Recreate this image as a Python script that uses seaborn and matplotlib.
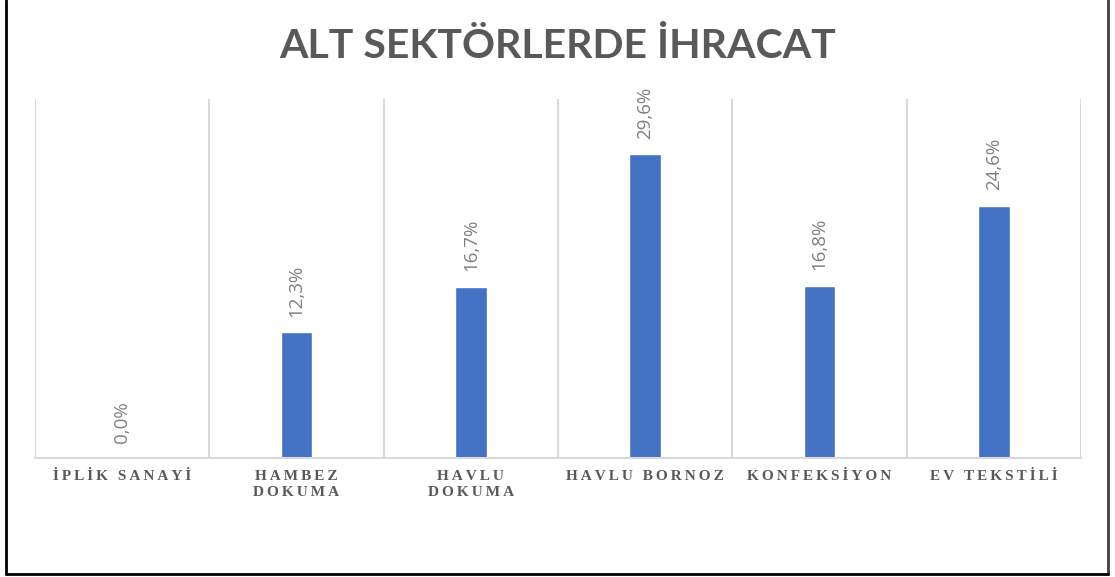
import matplotlib
matplotlib.use('Agg')
import matplotlib.pyplot as plt
import seaborn as sns
import pandas as pd
from matplotlib.lines import Line2D

# chart data
categories = ['İPLİK SANAYİ', 'HAMBEZ\nDOKUMA', 'HAVLU\nDOKUMA',
              'HAVLU BORNOZ', 'KONFEKSİYON', 'EV TEKSTİLİ']
shares = [0.0, 12.3, 16.7, 29.6, 16.8, 24.6]
title = 'ALT SEKTÖRLERDE İHRACAT'

df = pd.DataFrame({'Sektor': categories, 'Pay': shares})

sns.set_style('white')
plt.rcParams['font.family'] = ['Lato', 'DejaVu Sans']

fig = plt.figure(figsize=(11.15, 5.77), dpi=100)
ax = fig.add_axes([35 / 1115, 1 - 458 / 577, 1046 / 1115, 359 / 577])

sns.barplot(data=df, x='Sektor', y='Pay', color='#4472C4', width=0.18,
            saturation=1, ax=ax)

ax.set_ylim(0, 35)
ax.set_xlim(-0.5, len(categories) - 0.5)

# value labels, comma decimal
labels = [f'{v:.1f}%'.replace('.', ',') for v in shares]
ax.bar_label(ax.containers[0], labels=labels, rotation=90, padding=11,
             color='#7f7f7f', fontsize=13.5, family=['Open Sans', 'DejaVu Sans'])

# vertical separators between categories
ax.set_xticks([i - 0.5 for i in range(len(categories) + 1)], minor=True)
ax.grid(True, which='minor', axis='x', color='#d9d9d9', linewidth=1.5)
ax.grid(False, which='major')
ax.tick_params(axis='x', which='both', length=0, pad=9)
ax.set_yticks([])
ax.set_xlabel('')
ax.set_ylabel('')

# spaced-out serif tick labels
spaced = ['\n'.join('\u2009'.join(line) for line in c.split('\n')) for c in categories]
ax.set_xticks(range(len(categories)))
ax.set_xticklabels(spaced, family=['Liberation Serif', 'DejaVu Serif'],
                   fontweight='bold', fontsize=11, color='#595959',
                   linespacing=1.25)

for side in ['top', 'left', 'right']:
    ax.spines[side].set_visible(False)
ax.spines['bottom'].set_color('#d9d9d9')
ax.spines['bottom'].set_linewidth(1.5)

fig.text(0.5, 1 - 46 / 577, title, ha='center', va='center',
         fontsize=29.5, fontweight='bold', color='#595959')

# outer frame (left, right, bottom)
fig.add_artist(Line2D([6 / 1115, 6 / 1115], [3 / 577, 1], color='black', lw=2))
fig.add_artist(Line2D([1108 / 1115, 1108 / 1115], [3 / 577, 1], color='#404040', lw=2))
fig.add_artist(Line2D([6 / 1115, 1108 / 1115], [3 / 577, 3 / 577], color='black', lw=2))

fig.savefig('out.png', dpi=100, facecolor='white')
